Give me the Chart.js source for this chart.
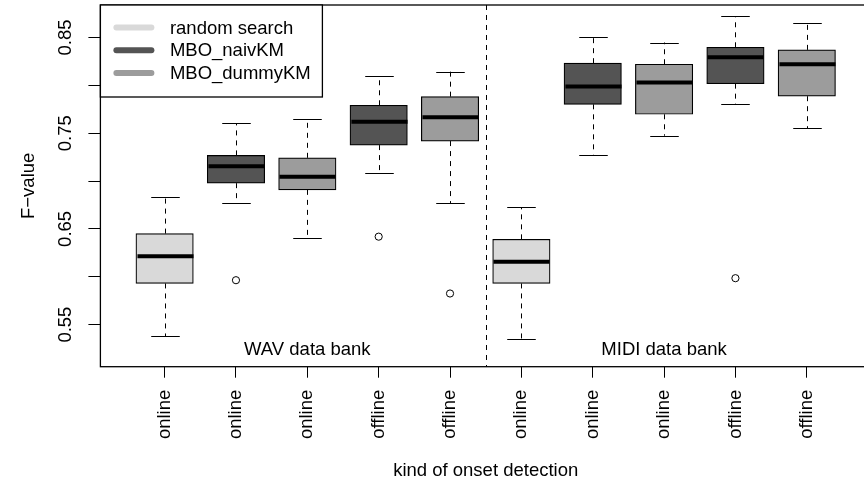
<!DOCTYPE html>
<html>
<head>
<meta charset="utf-8">
<script src="https://cdn.jsdelivr.net/npm/chart.js@4.4.1/dist/chart.umd.min.js"></script>
<style>
  html, body { margin: 0; padding: 0; background: #fff; overflow: hidden; }
  #wrap { width: 876px; height: 480px; }
</style>
</head>
<body>
<div id="wrap"><canvas id="boxChart" width="876" height="480"></canvas></div>
<script>
// Data
const categories = ['online', 'online', 'online', 'offline', 'offline', 'online', 'online', 'online', 'offline', 'offline'];
const boxGroup = [0, 1, 2, 1, 2, 0, 1, 2, 1, 2];
const seriesNames = ['random search', 'MBO_naivKM', 'MBO_dummyKM'];
const seriesColors = ['#d9d9d9', '#545454', '#9c9c9c'];
const whiskerLow = [0.5377, 0.6768, 0.6404, 0.7083, 0.6768, 0.5346, 0.7277, 0.7474, 0.7804, 0.7551];
const q1 = [0.5930, 0.6978, 0.6908, 0.7376, 0.7418, 0.5930, 0.7802, 0.7698, 0.8018, 0.7887];
const median = [0.6213, 0.7156, 0.7044, 0.7620, 0.7666, 0.6157, 0.7988, 0.8029, 0.8294, 0.8221];
const q3 = [0.6451, 0.7268, 0.7243, 0.7792, 0.7882, 0.6391, 0.8232, 0.8221, 0.8398, 0.8371];
const whiskerHigh = [0.6838, 0.7603, 0.7651, 0.8099, 0.8144, 0.6726, 0.8505, 0.8448, 0.8725, 0.8654];
const outlierPos = [2, 4, 5, 9];
const outlierVal = [0.5964, 0.6419, 0.5825, 0.5985];
const yTicks = [0.55, 0.60, 0.65, 0.70, 0.75, 0.80, 0.85];
const yLabels = ['0.55', '0.65', '0.75', '0.85'];
const bankLabels = [{ x: 3, text: 'WAV data bank' }, { x: 8, text: 'MIDI data bank' }];
const bankLabelY = 0.524;
const separatorX = 5.5;

const FONT = '18.5px "Liberation Sans", Arial, sans-serif';

// box bodies, one dataset per method
const boxSets = seriesNames.map((name, g) => ({
    type: 'bar',
    label: name,
    data: categories.map((c, i) => boxGroup[i] === g ? { x: i + 1, y: [q1[i], q3[i]] } : null).filter(Boolean),
    backgroundColor: seriesColors[g],
    borderColor: '#000',
    borderWidth: 1.2,
    borderSkipped: false,
    barThickness: 57.4,
    grouped: false,
    order: 2
}));

const outlierSet = {
    type: 'scatter',
    label: 'outliers',
    data: outlierPos.map((p, i) => ({ x: p, y: outlierVal[i] })),
    pointStyle: 'circle',
    pointRadius: 3.6,
    backgroundColor: 'rgba(0,0,0,0)',
    borderColor: '#000',
    borderWidth: 1,
    order: 1
};

const boxExtras = {
    id: 'boxExtras',
    afterDatasetsDraw(chart) {
        const { ctx, chartArea: a, scales: { x, y } } = chart;
        const capHalf = x.getPixelForValue(1.2) - x.getPixelForValue(1);
        const boxHalf = x.getPixelForValue(1.4) - x.getPixelForValue(1);
        ctx.save();
        ctx.strokeStyle = '#000';
        categories.forEach((c, i) => {
            const px = Math.round(x.getPixelForValue(i + 1)) + 0.5;
            // dashed whiskers
            ctx.lineWidth = 1;
            ctx.setLineDash([5, 5]);
            ctx.beginPath();
            ctx.moveTo(px, y.getPixelForValue(q3[i]));
            ctx.lineTo(px, y.getPixelForValue(whiskerHigh[i]));
            ctx.moveTo(px, y.getPixelForValue(q1[i]));
            ctx.lineTo(px, y.getPixelForValue(whiskerLow[i]));
            ctx.stroke();
            // caps
            ctx.setLineDash([]);
            ctx.beginPath();
            [whiskerHigh[i], whiskerLow[i]].forEach(v => {
                const py = Math.round(y.getPixelForValue(v)) + 0.5;
                ctx.moveTo(px - capHalf, py);
                ctx.lineTo(px + capHalf, py);
            });
            ctx.stroke();
            // median
            ctx.lineWidth = 4;
            ctx.beginPath();
            const my = y.getPixelForValue(median[i]);
            ctx.moveTo(px - boxHalf + 0.5, my);
            ctx.lineTo(px + boxHalf - 0.5, my);
            ctx.stroke();
        });
        // separator between the two data banks
        const sx = Math.round(x.getPixelForValue(separatorX)) + 0.5;
        ctx.lineWidth = 1;
        ctx.setLineDash([5, 5]);
        ctx.beginPath();
        ctx.moveTo(sx, a.top);
        ctx.lineTo(sx, a.bottom);
        ctx.stroke();
        ctx.setLineDash([]);
        ctx.restore();
    },
    afterDraw(chart) {
        const { ctx, chartArea: a, scales: { x, y } } = chart;
        ctx.save();
        ctx.fillStyle = '#000';
        ctx.font = FONT;

        // bank labels
        ctx.textAlign = 'center';
        ctx.textBaseline = 'middle';
        bankLabels.forEach(b => ctx.fillText(b.text, x.getPixelForValue(b.x), y.getPixelForValue(bankLabelY)));

        // y tick labels, rotated like R's las=0
        ctx.textBaseline = 'alphabetic';
        yLabels.forEach(t => {
            ctx.save();
            ctx.translate(a.left - 29, y.getPixelForValue(parseFloat(t)));
            ctx.rotate(-Math.PI / 2);
            ctx.fillText(t, 0, 0);
            ctx.restore();
        });

        // axis titles
        ctx.save();
        ctx.translate(33.5, (a.top + a.bottom) / 2);
        ctx.rotate(-Math.PI / 2);
        ctx.fillText('F\u2212value', 0, 0);
        ctx.restore();
        ctx.fillText('kind of onset detection', (a.left + a.right) / 2, 476);

        // frame
        ctx.lineWidth = 1.3;
        ctx.strokeStyle = '#000';
        ctx.strokeRect(a.left, a.top, a.right - a.left, a.bottom - a.top);

        // legend, top left
        const lw = 222, lh = 92;
        ctx.fillStyle = '#fff';
        ctx.fillRect(a.left, a.top, lw, lh);
        ctx.strokeRect(a.left, a.top, lw, lh);
        ctx.textAlign = 'left';
        ctx.textBaseline = 'middle';
        seriesNames.forEach((name, g) => {
            const ly = a.top + 22.6 + g * 22.7;
            ctx.strokeStyle = seriesColors[g];
            ctx.lineWidth = 6;
            ctx.lineCap = 'round';
            ctx.beginPath();
            ctx.moveTo(a.left + 16, ly);
            ctx.lineTo(a.left + 51, ly);
            ctx.stroke();
            ctx.fillStyle = '#000';
            ctx.fillText(name, a.left + 69.5, ly + 1);
        });
        ctx.restore();
    }
};

new Chart(document.getElementById('boxChart'), {
    data: { datasets: [...boxSets, outlierSet] },
    options: {
        responsive: false,
        animation: false,
        events: [],
        layout: { padding: { top: 4.7, right: 0.5, left: 0, bottom: 0 } },
        plugins: { legend: { display: false }, tooltip: { enabled: false } },
        scales: {
            x: {
                type: 'linear',
                min: 0.1,
                max: 10.9,
                offset: false,
                afterBuildTicks: s => { s.ticks = categories.map((c, i) => ({ value: i + 1 })); },
                afterFit: s => { s.height = 113.3; },
                grid: { offset: false, drawOnChartArea: false, drawTicks: true, tickLength: 11, color: '#000', lineWidth: 1 },
                border: { display: false },
                ticks: {
                    autoSkip: false,
                    minRotation: 90,
                    maxRotation: 90,
                    padding: 12,
                    color: '#000',
                    font: { family: '"Liberation Sans", Arial, sans-serif', size: 18.5 },
                    callback: v => categories[v - 1] || ''
                }
            },
            y: {
                type: 'linear',
                min: 0.506,
                max: 0.884,
                afterBuildTicks: s => { s.ticks = yTicks.map(v => ({ value: v })); },
                afterFit: s => { s.width = 100.4; },
                grid: { drawOnChartArea: false, drawTicks: true, tickLength: 12, color: '#000', lineWidth: 1 },
                border: { display: false },
                ticks: { display: false }
            }
        }
    },
    plugins: [boxExtras]
});
</script>
</body>
</html>
